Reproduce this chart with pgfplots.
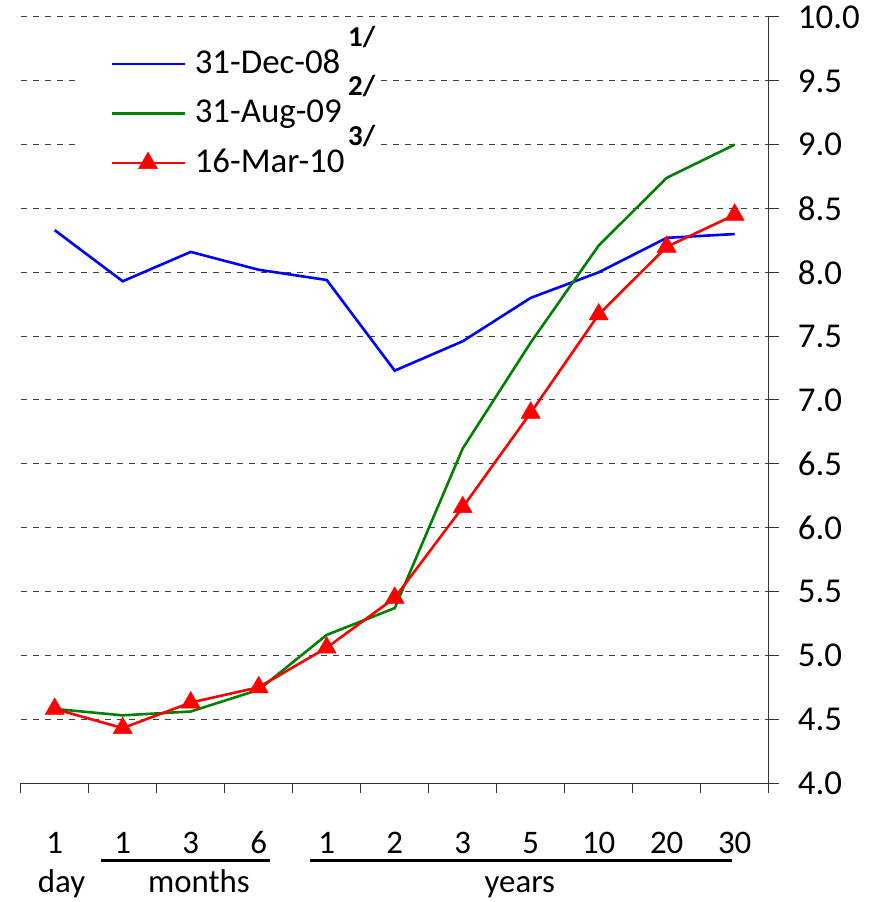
\documentclass[border=0pt]{standalone}
\usepackage{fontspec}
\setmainfont{Carlito}
\usepackage{pgfplots}
\pgfplotsset{compat=1.18}
\definecolor{xlgreen}{RGB}{0,128,0}
\newcommand{\supl}[1]{\raisebox{27bp}{\fontsize{29}{31}\selectfont\bfseries #1}}
\begin{document}
\begin{tikzpicture}
\useasboundingbox (-20.7bp,-119bp) rectangle (861.3bp,783bp);
\begin{axis}[
    at={(0,0)}, anchor=south west,
    scale only axis, width=748bp, height=766bp,
    xmin=-0.5, xmax=10.5, ymin=4, ymax=10,
    clip=false,
    axis x line=bottom, axis y line=right,
    axis line style={-, black!80, line width=1bp},
    xtick={0,...,10},
    xticklabels={1,1,3,6,1,2,3,5,10,20,30},
    minor xtick={-0.5,0.5,...,10.5},
    ytick={4,4.5,...,10},
    yticklabels={4.0,4.5,5.0,5.5,6.0,6.5,7.0,7.5,8.0,8.5,9.0,9.5,10.0},
    tick align=outside,
    major tick length=10bp, minor tick length=10bp,
    tick style={black!80, line width=1bp},
    major x tick style={draw=none},
    xticklabel style={font=\fontsize{33}{40}\selectfont, inner sep=0pt, anchor=base, yshift=-60bp},
    yticklabel style={font=\fontsize{35}{42}\selectfont, inner sep=0pt, anchor=west, xshift=19bp},
    ymajorgrids=true,
    grid style={black!75, line width=1bp, dash pattern=on 6bp off 6bp},
    legend cell align=left,
    legend style={draw=none, fill=white, at={(rel axis cs:0.0726,0.9674)}, anchor=north west,
        inner xsep=5bp, inner ysep=5bp, row sep=15.5bp, column sep=9bp,
        nodes={inner sep=0pt, text height=26bp, text depth=8bp, font=\fontsize{35}{42}\selectfont}},
    legend image code/.code={\path (-30bp,0bp);
        \draw[mark repeat=2,mark phase=2,#1] plot coordinates {(0bp,0bp) (36.5bp,0bp) (73bp,0bp)};},
]
\addplot[blue, line width=2.6bp] coordinates {
    (0,8.33)(1,7.93)(2,8.16)(3,8.02)(4,7.94)(5,7.23)(6,7.46)(7,7.80)(8,8.00)(9,8.27)(10,8.30)
};
\addlegendentry{\makebox[153.4bp][l]{31-Dec-08}\supl{1/}}
\addplot[xlgreen, line width=2.6bp] coordinates {
    (0,4.58)(1,4.53)(2,4.56)(3,4.73)(4,5.16)(5,5.37)(6,6.62)(7,7.45)(8,8.21)(9,8.74)(10,9.00)
};
\addlegendentry{\makebox[153.4bp][l]{31-Aug-09}\supl{2/}}
\addplot[red, line width=2.6bp, mark=triangle*, mark size=11bp, mark options={solid, fill=red, draw=red, line width=0.5bp}] coordinates {
    (0,4.58)(1,4.43)(2,4.63)(3,4.75)(4,5.06)(5,5.45)(6,6.16)(7,6.90)(8,7.67)(9,8.20)(10,8.45)
};
\addlegendentry{\makebox[153.4bp][l]{16-Mar-10}\supl{3/}}
% spans under the tick labels
\draw[line width=3bp] (axis cs:0.68,3.396) -- (axis cs:3.17,3.396);
\draw[line width=3bp] (axis cs:3.76,3.396) -- (axis cs:9.96,3.396);
\node[anchor=base, inner sep=0pt, font=\fontsize{33}{40}\selectfont] at (axis cs:0.1,3.145) {day};
\node[anchor=base, inner sep=0pt, font=\fontsize{33}{40}\selectfont] at (axis cs:2.12,3.145) {months};
\node[anchor=base, inner sep=0pt, font=\fontsize{33}{40}\selectfont] at (axis cs:6.84,3.145) {years};
\end{axis}
\end{tikzpicture}
\end{document}
